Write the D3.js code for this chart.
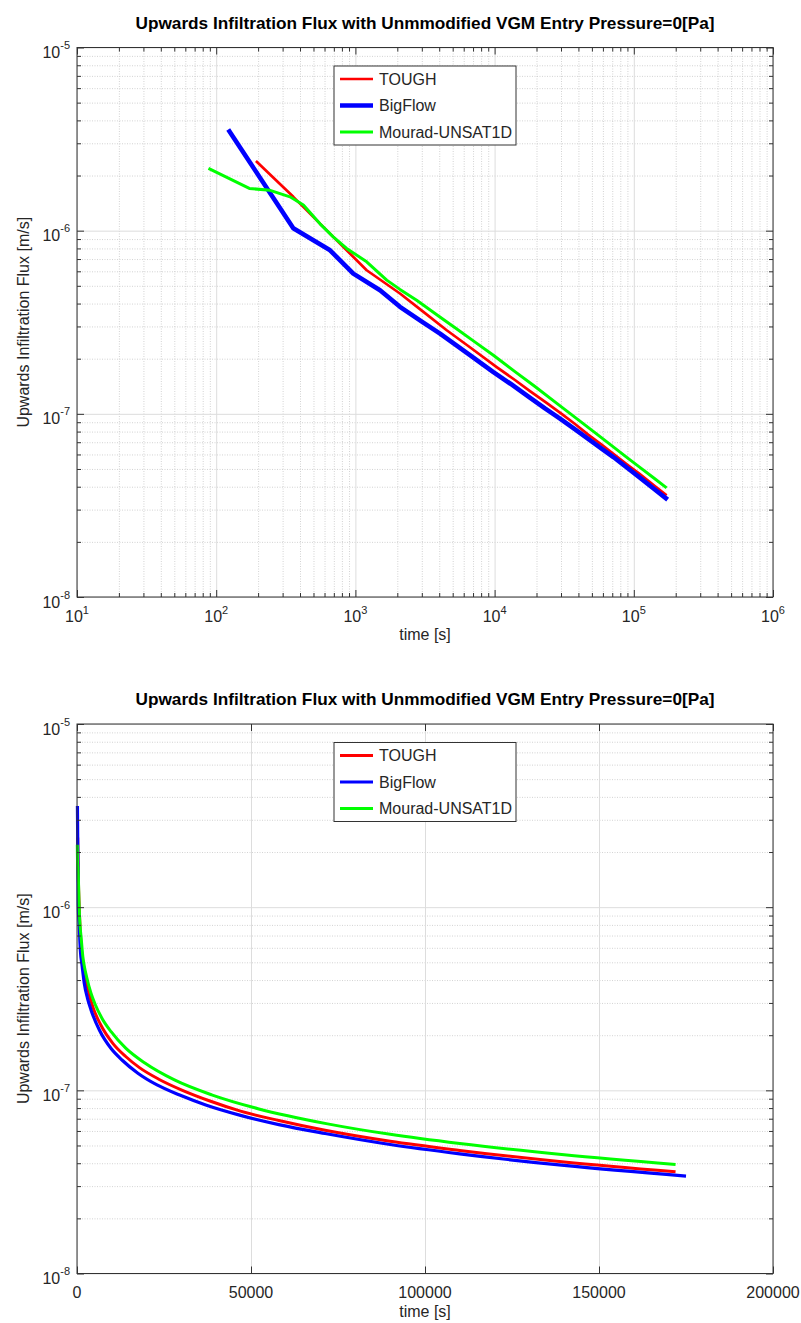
<!doctype html>
<html>
<head>
<meta charset="utf-8">
<title>Upwards Infiltration Flux</title>
<script src="https://cdn.jsdelivr.net/npm/d3@7"></script>
<style>
  body { margin: 0; background: #fff; }
  svg { display: block; font-family: 'Liberation Sans', Arial, sans-serif; }
</style>
</head>
<body>
<svg width="801" height="1323"></svg>
<script>
// values (time in s, flux in m/s)
var toughT = [193, 358, 693, 1205, 2090, 3000, 4530, 6800, 10350, 14000, 17950, 23500, 30300, 38000, 47000, 58000, 71300, 90000, 110000, 140000, 172000];
var toughF = [2.40e-6, 1.53e-6, 9.25e-7, 6.08e-7, 4.54e-7, 3.66e-7, 2.86e-7, 2.28e-7, 1.80e-7, 1.53e-7, 1.33e-7, 1.15e-7, 1.00e-7, 8.77e-8, 7.7e-8, 6.84e-8, 6.05e-8, 5.27e-8, 4.7e-8, 4.06e-8, 3.59e-8];

var bigflowT = [122, 358, 658, 966, 1503, 2090, 3000, 4055, 6500, 9800, 13000, 17500, 23000, 29500, 37000, 47000, 58000, 71300, 90000, 110000, 140000, 175000];
var bigflowF = [3.57e-6, 1.03e-6, 7.81e-7, 5.83e-7, 4.73e-7, 3.84e-7, 3.19e-7, 2.74e-7, 2.12e-7, 1.69e-7, 1.46e-7, 1.24e-7, 1.07e-7, 9.42e-8, 8.32e-8, 7.3e-8, 6.50e-8, 5.81e-8, 5.06e-8, 4.5e-8, 3.89e-8, 3.40e-8];

var mouradT = [88, 173, 244, 339, 423, 557, 693, 865, 1205, 1679, 2090, 2755, 4000, 5200, 7200, 9800, 14000, 19500, 28000, 38900, 52000, 72000, 90000, 110000, 140000, 172000];
var mouradF = [2.19e-6, 1.70e-6, 1.66e-6, 1.53e-6, 1.38e-6, 1.09e-6, 9.25e-7, 8.0e-7, 6.76e-7, 5.37e-7, 4.78e-7, 4.17e-7, 3.40e-7, 2.95e-7, 2.47e-7, 2.09e-7, 1.70e-7, 1.41e-7, 1.14e-7, 9.42e-8, 7.94e-8, 6.56e-8, 5.75e-8, 5.12e-8, 4.45e-8, 3.94e-8];

var seriesNames = ['TOUGH', 'BigFlow', 'Mourad-UNSAT1D'];
var seriesColors = ['#ff0000', '#0000ff', '#00ff00'];

var logTimeTicks = [1e1, 1e2, 1e3, 1e4, 1e5, 1e6];
var logTimeExp = ['1', '2', '3', '4', '5', '6'];
var linTimeTicks = [0, 50000, 100000, 150000, 200000];
var fluxTicks = [1e-5, 1e-6, 1e-7, 1e-8];
var fluxExp = ['-5', '-6', '-7', '-8'];

var titleText = 'Upwards Infiltration Flux with Unmmodified VGM Entry Pressure=0[Pa]';
var yLabel = 'Upwards Infiltration Flux [m/s]';
var xLabel = 'time [s]';

var svg = d3.select('svg');
var left = 77, right = 773, plotH = 549.5;
var axisColor = '#333333', textColor = '#262626';

function pairs(t, f) {
  return t.map(function(d, i) { return {t: d, f: f[i]}; });
}
var series = [pairs(toughT, toughF), pairs(bigflowT, bigflowF), pairs(mouradT, mouradF)];

function isMajor(d) {
  var l = Math.log10(d);
  return Math.abs(l - Math.round(l)) < 1e-6;
}

function panel(top, logX, widths, xLabelY, tickLabelY) {
  var bottom = top + plotH;
  var g = svg.append('g');

  var x = logX ? d3.scaleLog().domain([10, 1e6]).range([left, right])
               : d3.scaleLinear().domain([0, 200000]).range([left, right]);
  var y = d3.scaleLog().domain([1e-8, 1e-5]).range([bottom, top]);

  var yMinor = y.ticks().filter(function(d) { return !isMajor(d); });
  var xMajor = logX ? logTimeTicks : linTimeTicks;
  var xMinor = logX ? x.ticks().filter(function(d) { return !isMajor(d); }) : [];

  // grid
  function grid(axis, tr, dashed) {
    var a = g.append('g').attr('transform', tr).call(axis);
    a.select('.domain').remove();
    a.selectAll('line')
      .attr('stroke', dashed ? '#c8c8c8' : '#dddddd')
      .attr('stroke-width', dashed ? 0.8 : 1)
      .attr('stroke-dasharray', dashed ? '1,1.5' : null);
  }
  grid(d3.axisBottom(x).tickValues(xMinor).tickSize(-plotH).tickFormat(''), 'translate(0,' + bottom + ')', true);
  grid(d3.axisLeft(y).tickValues(yMinor).tickSize(-(right - left)).tickFormat(''), 'translate(' + left + ',0)', true);
  grid(d3.axisBottom(x).tickValues(xMajor).tickSize(-plotH).tickFormat(''), 'translate(0,' + bottom + ')', false);
  grid(d3.axisLeft(y).tickValues(fluxTicks).tickSize(-(right - left)).tickFormat(''), 'translate(' + left + ',0)', false);

  // curves
  var line = d3.line()
    .curve(logX ? d3.curveLinear : d3.curveMonotoneX)
    .x(function(d) { return x(d.t); })
    .y(function(d) { return y(d.f); });
  series.forEach(function(s, i) {
    g.append('path')
      .datum(s)
      .attr('fill', 'none')
      .attr('stroke', seriesColors[i])
      .attr('stroke-width', widths[i])
      .attr('stroke-linejoin', 'round')
      .attr('d', line);
  });

  // box and inward ticks
  g.append('rect')
    .attr('x', left).attr('y', top)
    .attr('width', right - left).attr('height', plotH)
    .attr('fill', 'none').attr('stroke', axisColor).attr('stroke-width', 1);

  function ticks(axis, tr) {
    var a = g.append('g').attr('transform', tr).call(axis);
    a.select('.domain').remove();
    a.selectAll('line').attr('stroke', axisColor);
  }
  ticks(d3.axisBottom(x).tickValues(xMajor).tickSize(-7).tickFormat(''), 'translate(0,' + bottom + ')');
  ticks(d3.axisTop(x).tickValues(xMajor).tickSize(-7).tickFormat(''), 'translate(0,' + top + ')');
  ticks(d3.axisBottom(x).tickValues(xMinor).tickSize(-4).tickFormat(''), 'translate(0,' + bottom + ')');
  ticks(d3.axisTop(x).tickValues(xMinor).tickSize(-4).tickFormat(''), 'translate(0,' + top + ')');
  ticks(d3.axisLeft(y).tickValues(fluxTicks).tickSize(-7).tickFormat(''), 'translate(' + left + ',0)');
  ticks(d3.axisRight(y).tickValues(fluxTicks).tickSize(-7).tickFormat(''), 'translate(' + right + ',0)');
  ticks(d3.axisLeft(y).tickValues(yMinor).tickSize(-4).tickFormat(''), 'translate(' + left + ',0)');
  ticks(d3.axisRight(y).tickValues(yMinor).tickSize(-4).tickFormat(''), 'translate(' + right + ',0)');

  // y tick labels 10^n
  var yl = g.selectAll('.ylab')
    .data(fluxTicks)
    .enter().append('text')
    .attr('x', 70)
    .attr('y', function(d) { return y(d) + 10.5; })
    .attr('text-anchor', 'end')
    .attr('font-size', 16)
    .attr('fill', textColor);
  yl.append('tspan').text('10');
  yl.append('tspan').attr('dy', -9).attr('font-size', 11).text(function(d, i) { return fluxExp[i]; });

  // x tick labels
  var xl = g.selectAll('.xlab')
    .data(xMajor)
    .enter().append('text')
    .attr('x', function(d) { return x(d); })
    .attr('y', tickLabelY)
    .attr('text-anchor', 'middle')
    .attr('font-size', 16)
    .attr('fill', textColor);
  if (logX) {
    xl.append('tspan').text('10');
    xl.append('tspan').attr('dy', -8).attr('font-size', 11).text(function(d, i) { return logTimeExp[i]; });
  } else {
    xl.text(function(d) { return d; });
  }

  // titles
  g.append('text')
    .attr('x', (left + right) / 2)
    .attr('y', top - 19)
    .attr('text-anchor', 'middle')
    .attr('font-size', 17)
    .attr('font-weight', 'bold')
    .attr('fill', '#000')
    .attr('textLength', 579)
    .attr('lengthAdjust', 'spacingAndGlyphs')
    .text(titleText);

  g.append('text')
    .attr('x', (left + right) / 2)
    .attr('y', xLabelY)
    .attr('text-anchor', 'middle')
    .attr('font-size', 16)
    .attr('fill', textColor)
    .text(xLabel);

  g.append('text')
    .attr('transform', 'translate(29,' + (top + plotH / 2) + ') rotate(-90)')
    .attr('text-anchor', 'middle')
    .attr('font-size', 16)
    .attr('fill', textColor)
    .text(yLabel);

  // legend
  var lg = g.append('g').attr('transform', 'translate(334,' + (top + 18.5) + ')');
  lg.append('rect')
    .attr('width', 182).attr('height', 79)
    .attr('fill', '#fff').attr('stroke', axisColor).attr('stroke-width', 1);
  var row = lg.selectAll('.row')
    .data(seriesNames)
    .enter().append('g')
    .attr('transform', function(d, i) { return 'translate(0,' + (13 + i * 26.5) + ')'; });
  row.append('line')
    .attr('x1', 6).attr('x2', 39)
    .attr('stroke', function(d, i) { return seriesColors[i]; })
    .attr('stroke-width', function(d, i) { return widths[i]; });
  row.append('text')
    .attr('x', 45)
    .attr('dy', '0.35em')
    .attr('font-size', 16)
    .attr('fill', textColor)
    .text(function(d) { return d; });
}

panel(47.5, true, [2.7, 4.6, 3], 640, 622);
panel(724, false, [3, 3.2, 3], 1317, 1298);
</script>
</body>
</html>
